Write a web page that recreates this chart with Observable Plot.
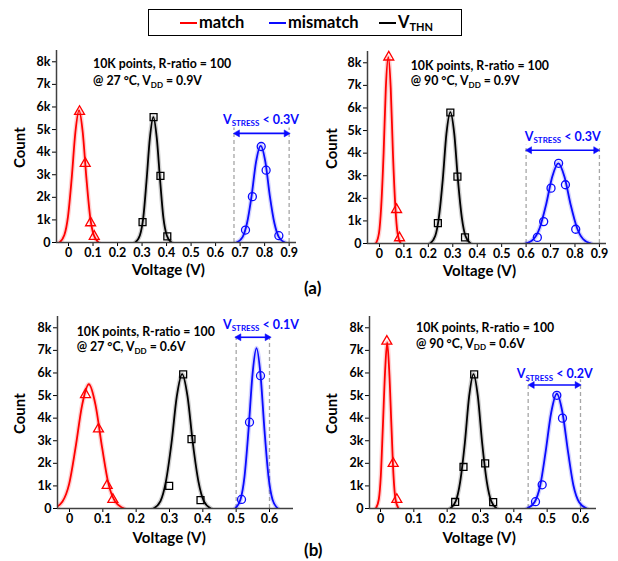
<!DOCTYPE html>
<html>
<head>
<meta charset="utf-8">
<script src="https://cdn.jsdelivr.net/npm/d3@7"></script>
<script src="https://cdn.jsdelivr.net/npm/@observablehq/plot@0.6"></script>
<style>
  body { margin: 0; background: #fff; }
  #root { position: relative; width: 618px; height: 561px; overflow: hidden; font-family: Lato, "Open Sans", sans-serif; font-weight: bold; }
  #root svg.panel { position: absolute; overflow: visible; }
  .legend { position: absolute; left: 148px; top: 9px; width: 314px; height: 27px; border: 1.5px solid #000; box-sizing: border-box; }
  .legend .item { position: absolute; top: 2px; font-size: 16.5px; line-height: 20px; white-space: nowrap; }
  .legend .swatch { display: inline-block; width: 17px; height: 2px; vertical-align: middle; margin-right: 2px; position: relative; top: -1px; }
  .legend sub { font-size: 11px; vertical-align: baseline; position: relative; top: 3px; }
  .tag { position: absolute; font-size: 17px; }
</style>
</head>
<body>
<div id="root"></div>
<script>
// Tick values and labels
const countTicks = [0, 1, 2, 3, 4, 5, 6, 7, 8];               // thousands
const countTickLabels = ["0", "1k", "2k", "3k", "4k", "5k", "6k", "7k", "8k"];
const voltageTicks09 = [0, 0.1, 0.2, 0.3, 0.4, 0.5, 0.6, 0.7, 0.8, 0.9];
const voltageTicks06 = [0, 0.1, 0.2, 0.3, 0.4, 0.5, 0.6];
const seriesNames = ["match", "mismatch", "V_THN"];

// VDD = 0.9 V, 27 °C  — [voltage (V), count (k)]
const v09t27MatchFit = [[-0.037,0],[-0.017,0.33],[-0.002,1.16],[0.013,2.85],[0.028,4.88],[0.043,5.85],[0.058,4.88],[0.073,2.85],[0.088,1.16],[0.103,0.33],[0.123,0]];
const v09t27MatchPts = [[0.045,5.8],[0.068,3.5],[0.09,0.87],[0.105,0.27]];
const v09t27VthFit = [[0.272,0],[0.291,0.31],[0.305,1.10],[0.318,2.70],[0.332,4.63],[0.346,5.55],[0.36,4.63],[0.374,2.70],[0.387,1.10],[0.401,0.31],[0.42,0]];
const v09t27VthPts = [[0.347,5.55],[0.375,2.95],[0.302,0.9],[0.403,0.27]];
const v09t27MisFit = [[0.685,0],[0.71,0.24],[0.728,0.85],[0.747,2.08],[0.765,3.57],[0.784,4.28],[0.803,3.57],[0.821,2.08],[0.84,0.85],[0.858,0.24],[0.883,0]];
const v09t27MisPts = [[0.786,4.25],[0.806,3.2],[0.75,2.03],[0.722,0.55],[0.858,0.3]];
const v09t27Stress = [0.675, 0.9];

// VDD = 0.9 V, 90 °C
const v09t90MatchFit = [[-0.015,0],[-0.002,0.46],[0.007,1.63],[0.017,4.02],[0.026,6.89],[0.036,8.25],[0.046,6.89],[0.055,4.02],[0.065,1.63],[0.074,0.46],[0.087,0]];
const v09t90MatchPts = [[0.038,8.25],[0.07,1.5],[0.082,0.25]];
const v09t90VthFit = [[0.207,0],[0.228,0.33],[0.243,1.15],[0.259,2.83],[0.274,4.86],[0.29,5.82],[0.306,4.86],[0.321,2.83],[0.337,1.15],[0.352,0.33],[0.373,0]];
const v09t90VthPts = [[0.29,5.8],[0.319,2.96],[0.239,0.9],[0.35,0.27]];
const v09t90MisFit = [[0.598,0],[0.631,0.20],[0.656,0.70],[0.682,1.73],[0.707,2.96],[0.732,3.55],[0.757,2.96],[0.782,1.73],[0.808,0.70],[0.833,0.20],[0.866,0]];
const v09t90MisPts = [[0.733,3.55],[0.761,2.6],[0.702,2.45],[0.672,0.97],[0.646,0.27],[0.803,0.63]];
const v09t90Stress = [0.6, 0.9];

// VDD = 0.6 V, 27 °C
const v06t27MatchFit = [[-0.048,0],[-0.021,0.31],[-0.001,1.09],[0.018,2.68],[0.038,4.59],[0.058,5.5],[0.078,4.59],[0.098,2.68],[0.117,1.09],[0.137,0.31],[0.164,0]];
const v06t27MatchPts = [[0.048,5.04],[0.087,3.52],[0.113,1.02],[0.13,0.4]];
const v06t27VthFit = [[0.252,0],[0.273,0.33],[0.289,1.18],[0.306,2.90],[0.322,4.97],[0.338,5.95],[0.354,4.97],[0.37,2.90],[0.387,1.18],[0.403,0.33],[0.424,0]];
const v06t27VthPts = [[0.341,5.94],[0.366,3.07],[0.299,1.0],[0.393,0.37]];
const v06t27MisFit = [[0.497,0],[0.513,0.40],[0.525,1.41],[0.537,3.46],[0.549,5.93],[0.561,7.1],[0.573,5.93],[0.585,3.46],[0.597,1.41],[0.609,0.40],[0.625,0]];
const v06t27MisPts = [[0.573,5.88],[0.54,3.82],[0.516,0.4]];
const v06t27Stress = [0.5, 0.6];

// VDD = 0.6 V, 90 °C
const v06t90MatchFit = [[-0.014,0],[-0.005,0.41],[0.001,1.46],[0.007,3.58],[0.014,6.14],[0.02,7.35],[0.026,6.14],[0.033,3.58],[0.039,1.46],[0.045,0.41],[0.054,0]];
const v06t90MatchPts = [[0.019,7.4],[0.038,1.99],[0.049,0.4]];
const v06t90VthFit = [[0.209,0],[0.226,0.33],[0.239,1.18],[0.253,2.90],[0.266,4.97],[0.279,5.95],[0.292,4.97],[0.305,2.90],[0.319,1.18],[0.332,0.33],[0.349,0]];
const v06t90VthPts = [[0.281,5.94],[0.249,1.84],[0.314,2.0],[0.224,0.29],[0.338,0.28]];
const v06t90MisFit = [[0.439,0],[0.462,0.28],[0.479,1.01],[0.495,2.47],[0.512,4.24],[0.529,5.08],[0.546,4.24],[0.563,2.47],[0.579,1.01],[0.596,0.28],[0.619,0]];
const v06t90MisPts = [[0.529,5.01],[0.546,4.0],[0.485,1.05],[0.465,0.3]];
const v06t90Stress = [0.443, 0.6];

const RED = "#ff0000", BLUE = "#0a0aff", BLACK = "#000000";
const FONT = "Lato, 'Open Sans', sans-serif";

const panels = [
  { temp: 27, vdd: "0.9", limit: "0.3", left: 0, top: 40, width: 305, height: 240, mL: 56, mR: 9, mT: 10, mB: 38,
    xDomain: [-0.049, 0.93], xTicks: voltageTicks09,
    match: [v09t27MatchFit, v09t27MatchPts], vth: [v09t27VthFit, v09t27VthPts], mis: [v09t27MisFit, v09t27MisPts],
    stress: v09t27Stress, dashTop: 5.07, arrow: [0.689, 0.888, 4.83], stressLabel: [0.787, 5.42],
    note: [0.102, 7.88, 7.12], xLabelAt: 0.407, xLabelDy: 28, countDx: -36 },
  { temp: 90, vdd: "0.9", limit: "0.3", left: 310, top: 40, width: 308, height: 240, mL: 57, mR: 12, mT: 11, mB: 37,
    xDomain: [-0.049, 0.929], xTicks: voltageTicks09,
    match: [v09t90MatchFit, v09t90MatchPts], vth: [v09t90VthFit, v09t90VthPts], mis: [v09t90MisFit, v09t90MisPts],
    stress: v09t90Stress, dashTop: 4.35, arrow: [0.614, 0.885, 4.13], stressLabel: [0.752, 4.72],
    note: [0.13, 7.86, 7.18], xLabelAt: 0.409, xLabelDy: 28, countDx: -35 },
  { temp: 27, vdd: "0.6", limit: "0.1", left: 0, top: 300, width: 305, height: 245, mL: 57, mR: 12, mT: 16, mB: 37,
    xDomain: [-0.036, 0.672], xTicks: voltageTicks06,
    match: [v06t27MatchFit, v06t27MatchPts], vth: [v06t27VthFit, v06t27VthPts], mis: [v06t27MisFit, v06t27MisPts],
    stress: v06t27Stress, dashTop: 7.7, arrow: [0.508, 0.593, 7.58], stressLabel: [0.576, 8.13],
    note: [0.023, 7.8, 7.14], xLabelAt: 0.299, xLabelDy: 29.5, countDx: -37 },
  { temp: 90, vdd: "0.6", limit: "0.2", left: 310, top: 300, width: 308, height: 245, mL: 59, mR: 22, mT: 16, mB: 37,
    xDomain: [-0.033, 0.648], xTicks: voltageTicks06,
    match: [v06t90MatchFit, v06t90MatchPts], vth: [v06t90VthFit, v06t90VthPts], mis: [v06t90MisFit, v06t90MisPts],
    stress: v06t90Stress, dashTop: 5.7, arrow: [0.455, 0.59, 5.47], stressLabel: [0.524, 5.94],
    note: [0.108, 8.0, 7.29], xLabelAt: 0.296, xLabelDy: 29.5, countDx: -37 }
];

const X = d => d[0], Y = d => d[1];

// One distribution series: soft halo, fitted curve, histogram markers
function seriesMarks([fit, pts], color, symbol, r) {
  return [
    Plot.line(fit, { x: X, y: Y, curve: "monotone-x", stroke: color, strokeWidth: 4.5, strokeOpacity: 0.18, clip: true }),
    Plot.line(fit, { x: X, y: Y, curve: "monotone-x", stroke: color, strokeWidth: 1.8, clip: true }),
    Plot.dot(pts, { x: X, y: Y, symbol, r, stroke: color, strokeWidth: 1.3, fill: "none" })
  ];
}

function drawPanel(p) {
  const [a1, a2, ay] = p.arrow;
  const plot = Plot.plot({
    width: p.width, height: p.height,
    marginLeft: p.mL, marginRight: p.mR, marginTop: p.mT, marginBottom: p.mB,
    style: { fontFamily: FONT, fontSize: "12.5px", fontWeight: "bold", color: "#000", background: "transparent", overflow: "visible" },
    x: { domain: p.xDomain, ticks: p.xTicks, tickFormat: d => d === 0 ? "0" : d.toFixed(1), tickSize: 4, tickPadding: 2, label: null },
    y: { domain: [0, 8.5], ticks: countTicks, tickFormat: d => countTickLabels[countTicks.indexOf(d)], tickSize: 4, tickPadding: 2, label: null },
    marks: [
      Plot.ruleX(p.stress, { y1: 0, y2: p.dashTop, stroke: "#a6a6a6", strokeWidth: 1.3, strokeDasharray: "4,3" }),
      ...seriesMarks(p.match, RED, "triangle", 3.7),
      ...seriesMarks(p.vth, BLACK, "square", 3.9),
      ...seriesMarks(p.mis, BLUE, "circle", 4),
      Plot.link([p.arrow], { x1: () => a1 + 0.004, x2: () => a2 - 0.004, y1: () => ay, y2: () => ay, stroke: BLUE, strokeWidth: 1.6 }),
      Plot.dot([a1, a2], { x: d => d, y: () => ay, symbol: "triangle", r: 2.6, fill: BLUE, stroke: BLUE, strokeWidth: 0.5,
                           rotate: d => d === a1 ? -90 : 90 }),
      Plot.ruleY([0], { stroke: "#404040", strokeWidth: 1.5 }),
      Plot.ruleX([p.xDomain[0]], { stroke: "#404040", strokeWidth: 1.5 }),
      Plot.text(["Voltage (V)"], { x: () => p.xLabelAt, frameAnchor: "bottom", lineAnchor: "middle", textAnchor: "middle",
                                   dy: p.xLabelDy, text: d => d, fontSize: 15, fontWeight: "bold", fill: "#000" }),
      Plot.text(["Count"], { y: () => 4.2, frameAnchor: "left", textAnchor: "middle", lineAnchor: "middle",
                             dx: p.countDx, rotate: -90, text: d => d, fontSize: 15, fontWeight: "bold", fill: "#000" })
    ]
  });
  plot.classList.add("panel");
  plot.style.left = p.left + "px";
  plot.style.top = p.top + "px";

  // Condition notes and the stress-window label, placed through the plot's own scales
  const sx = plot.scale("x"), sy = plot.scale("y");
  const g = d3.select(plot).append("g").attr("font-family", FONT).attr("font-weight", "bold").attr("text-anchor", "start");
  const [nx, ny1, ny2] = p.note;
  g.append("text").attr("x", sx.apply(nx)).attr("y", sy.apply(ny1)).attr("dy", "0.35em")
    .attr("font-size", 12.3).attr("fill", "#000").text("10K points, R-ratio = 100");
  const t2 = g.append("text").attr("x", sx.apply(nx)).attr("y", sy.apply(ny2)).attr("dy", "0.35em")
    .attr("font-size", 12.3).attr("fill", "#000");
  t2.append("tspan").text(`@ ${p.temp} °C, V`);
  t2.append("tspan").attr("font-size", 8).attr("dy", 2.5).text("DD");
  t2.append("tspan").attr("dy", -2.5).text(` = ${p.vdd}V`);

  const [lx, ly] = p.stressLabel;
  const t3 = g.append("text").attr("x", sx.apply(lx)).attr("y", sy.apply(ly)).attr("dy", "0.35em")
    .attr("text-anchor", "middle").attr("font-size", 12.5).attr("fill", BLUE);
  t3.append("tspan").text("V");
  t3.append("tspan").attr("font-size", 8).attr("dy", 2.5).text("STRESS");
  t3.append("tspan").attr("dy", -2.5).text(` < ${p.limit}V`);
  return plot;
}

const root = document.getElementById("root");
panels.forEach(p => root.appendChild(drawPanel(p)));

// Legend
const legend = document.createElement("div");
legend.className = "legend";
const legendItems = [
  { name: seriesNames[0], color: RED, left: 31 },
  { name: seriesNames[1], color: BLUE, left: 120 },
  { name: seriesNames[2], color: BLACK, left: 230 }
];
legendItems.forEach(it => {
  const el = document.createElement("div");
  el.className = "item";
  el.style.left = it.left + "px";
  const sw = document.createElement("span");
  sw.className = "swatch";
  sw.style.background = it.color;
  el.appendChild(sw);
  const label = document.createElement("span");
  label.style.color = "#000";
  if (it.name === "V_THN") label.innerHTML = "V<sub>THN</sub>";
  else label.textContent = it.name;
  el.appendChild(label);
  legend.appendChild(el);
});
root.appendChild(legend);

// Row tags
[["(a)", 304, 277], ["(b)", 304, 539]].forEach(([t, x, y]) => {
  const el = document.createElement("div");
  el.className = "tag";
  el.style.left = x + "px";
  el.style.top = y + "px";
  el.textContent = t;
  root.appendChild(el);
});
</script>
</body>
</html>
